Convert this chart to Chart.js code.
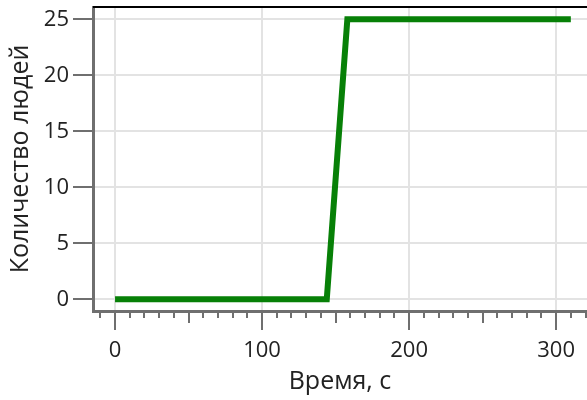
<!DOCTYPE html>
<html><head><meta charset="utf-8">
<script src="https://cdn.jsdelivr.net/npm/chart.js@4/dist/chart.umd.min.js"></script>
<style>html,body{margin:0;padding:0;background:#fff}#w{width:587px;height:400px}</style>
</head><body><div id="w"><canvas id="c"></canvas></div>
<script>
const timeValues = [0, 144, 158, 310];
const peopleValues = [0, 0, 25, 25];
const seriesName = 'Количество людей';
const xTitle = 'Время, с';
const yTitle = 'Количество людей';

const FONT = "'Open Sans', sans-serif";
const AXIS = '#6f6f6f';

const xTicksPlugin = {
  id: 'xticks',
  afterDraw(chart) {
    const s = chart.scales.x, ctx = chart.ctx;
    const y0 = chart.chartArea.bottom;
    ctx.save();
    ctx.strokeStyle = AXIS; ctx.lineWidth = 2;
    const start = Math.ceil(s.min / 10) * 10;
    for (let v = start; v <= s.max; v += 10) {
      const px = Math.round(s.getPixelForValue(v));
      const len = v % 100 === 0 ? 19 : (v % 50 === 0 ? 12 : 7);
      ctx.beginPath(); ctx.moveTo(px, y0); ctx.lineTo(px, y0 + len); ctx.stroke();
    }
    ctx.strokeStyle = '#000'; ctx.lineWidth = 2;
    ctx.beginPath(); ctx.moveTo(chart.chartArea.left, chart.chartArea.top); ctx.lineTo(chart.chartArea.right, chart.chartArea.top); ctx.stroke();
    ctx.restore();
  }
};

new Chart(document.getElementById('c'), {
  type: 'line',
  data: {
    datasets: [{
      label: seriesName,
      data: timeValues.map((t, i) => ({x: t, y: peopleValues[i]})),
      borderColor: '#078007',
      borderWidth: 6,
      pointRadius: 0,
      tension: 0,
      fill: false
    }]
  },
  options: {
    responsive: true, maintainAspectRatio: false, animation: false,
    layout: {padding: {top: 7, right: 0, left: 0, bottom: 0}},
    plugins: {legend: {display: false}, tooltip: {enabled: false}},
    scales: {
      x: {
        type: 'linear', min: -15, max: 321,
        afterFit(s) { s.height = 89; s.paddingLeft = 0; s.paddingRight = 0; },
        grid: {
          drawTicks: false,
          color: ctx => (ctx.tick && ctx.tick.value % 100 === 0) ? '#e3e3e3' : 'rgba(0,0,0,0)',
          lineWidth: 2
        },
        border: {display: true, color: AXIS, width: 3},
        ticks: {
          stepSize: 10, autoSkip: false, maxRotation: 0, padding: 27,
          color: '#222', font: {family: FONT, size: 22},
          callback: v => v % 100 === 0 ? String(v) : ''
        },
        title: {display: true, text: xTitle, color: '#222', font: {family: FONT, size: 25}, padding: {top: 0, bottom: 3}}
      },
      y: {
        type: 'linear', min: -1.05, max: 26.1,
        afterFit(s) { s.width = 93; s.paddingTop = 0; s.paddingBottom = 0; },
        afterBuildTicks(s) { s.ticks = [0,5,10,15,20,25].map(v => ({value: v})); },
        grid: {color: '#e3e3e3', lineWidth: 2, tickLength: 20, tickColor: AXIS, tickWidth: 2},
        border: {display: true, color: AXIS, width: 3},
        ticks: {padding: 4, color: '#222', font: {family: FONT, size: 22}},
        title: {display: true, text: yTitle, color: '#222', font: {family: FONT, size: 25}, padding: {top: 6, bottom: 0}}
      }
    }
  },
  plugins: [xTicksPlugin]
});
</script>
</body></html>
